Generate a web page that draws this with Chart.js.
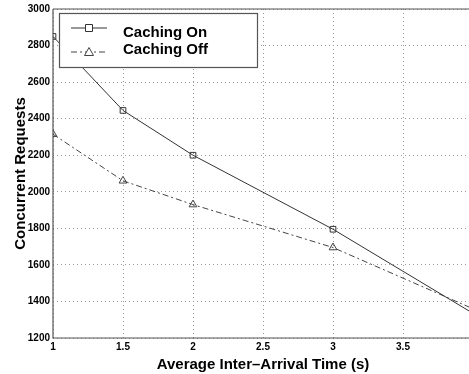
<!DOCTYPE html>
<html>
<head>
<meta charset="utf-8">
<script src="https://cdn.jsdelivr.net/npm/chart.js@4"></script>
<style>
  html, body { margin: 0; padding: 0; background: #fff; overflow: hidden; }
  #wrap { width: 480px; height: 374px; }
</style>
</head>
<body>
<div id="wrap"><canvas id="chart" width="480" height="374"></canvas></div>
<script>
var interArrival = [1, 1.5, 2, 3, 4];
var cachingOn = [2850, 2445, 2200, 1795, 1335];
var cachingOff = [2315, 2060, 1930, 1695, 1360];
var seriesNames = ['Caching On', 'Caching Off'];

var FONT = '"Liberation Sans", Arial, sans-serif';

function toPoints(xs, ys) {
    return xs.map(function(x, i) { return { x: x, y: ys[i] }; });
}

// legend drawn inside the plot, matlab style
var boxLegend = {
    id: 'boxLegend',
    afterDraw: function(chart) {
        var ctx = chart.ctx;
        ctx.save();
        ctx.fillStyle = '#fff';
        ctx.fillRect(59, 13, 198, 54);
        ctx.strokeStyle = '#555';
        ctx.lineWidth = 1.2;
        ctx.strokeRect(59.5, 13.5, 198, 54);
        var rows = [28, 52];
        chart.data.datasets.forEach(function(ds, i) {
            var y = rows[i];
            ctx.strokeStyle = ds.borderColor;
            ctx.lineWidth = 1;
            ctx.setLineDash(ds.borderDash || []);
            ctx.beginPath();
            ctx.moveTo(71, y);
            ctx.lineTo(107, y);
            ctx.stroke();
            ctx.setLineDash([]);
            ctx.fillStyle = '#fff';
            ctx.beginPath();
            if (ds.pointStyle === 'rect') {
                ctx.rect(85.5, y - 3.5, 7, 7);
            } else {
                ctx.moveTo(89, y - 4.5);
                ctx.lineTo(93.5, y + 3.5);
                ctx.lineTo(84.5, y + 3.5);
                ctx.closePath();
            }
            ctx.fill();
            ctx.stroke();
            ctx.fillStyle = '#000';
            ctx.font = 'bold 15px ' + FONT;
            ctx.textBaseline = 'middle';
            ctx.fillText(ds.label, 123, i === 0 ? 33 : 50);
        });
        ctx.restore();
    }
};

// solid box around the plot (grid lines are dotted)
var frame = {
    id: 'frame',
    beforeDatasetsDraw: function(chart) {
        var a = chart.chartArea, c = chart.ctx;
        c.save();
        c.strokeStyle = '#555';
        c.lineWidth = 1.2;
        c.beginPath();
        c.moveTo(a.left, a.top);
        c.lineTo(a.right, a.top);
        c.moveTo(a.left, a.top);
        c.lineTo(a.left, a.bottom);
        c.lineTo(a.right, a.bottom);
        c.stroke();
        c.restore();
    }
};

var ctx = document.getElementById('chart').getContext('2d');
new Chart(ctx, {
    type: 'line',
    data: {
        datasets: [{
            label: seriesNames[0],
            data: toPoints(interArrival, cachingOn),
            borderColor: '#333',
            borderWidth: 1,
            pointStyle: 'rect',
            pointRadius: 4,
            pointBackgroundColor: 'rgba(255,255,255,0)',
            pointBorderColor: '#333',
            tension: 0
        }, {
            label: seriesNames[1],
            data: toPoints(interArrival, cachingOff),
            borderColor: '#444',
            borderWidth: 1,
            borderDash: [6, 3, 2, 3],
            pointStyle: 'triangle',
            pointRadius: 4.5,
            pointBackgroundColor: 'rgba(255,255,255,0)',
            pointBorderColor: '#444',
            tension: 0
        }]
    },
    options: {
        responsive: false,
        animation: false,
        layout: { padding: { top: 7, right: 7, left: 0, bottom: 0 } },
        plugins: { legend: { display: false }, tooltip: { enabled: false } },
        scales: {
            x: {
                type: 'linear',
                min: 1,
                max: 4,
                ticks: {
                    stepSize: 0.5,
                    color: '#000',
                    font: { size: 10, weight: 'bold', family: FONT },
                    padding: 3,
                    maxRotation: 0,
                    callback: function(v) { return v === 4 ? '' : String(v); }
                },
                grid: { color: '#999', lineWidth: 1, tickLength: 0 },
                border: { display: false, dash: [1, 3] },
                title: {
                    display: true,
                    text: 'Average Inter\u2013Arrival Time (s)',
                    color: '#000',
                    font: { size: 15, weight: 'bold', family: FONT },
                    padding: { top: 0, bottom: 0 }
                },
                afterFit: function(scale) { scale.height = 36; }
            },
            y: {
                min: 1200,
                max: 3000,
                ticks: {
                    stepSize: 200,
                    color: '#000',
                    font: { size: 10, weight: 'bold', family: FONT },
                    padding: 3,
                    callback: function(v) { return String(v); }
                },
                grid: { color: '#999', lineWidth: 1, tickLength: 0 },
                border: { display: false, dash: [1, 3] },
                title: {
                    display: true,
                    text: 'Concurrent Requests',
                    color: '#000',
                    font: { size: 15, weight: 'bold', family: FONT },
                    padding: { top: 12, bottom: 0 }
                },
                afterFit: function(scale) { scale.width = 53; }
            }
        }
    },
    plugins: [boxLegend, frame]
});
</script>
</body>
</html>
